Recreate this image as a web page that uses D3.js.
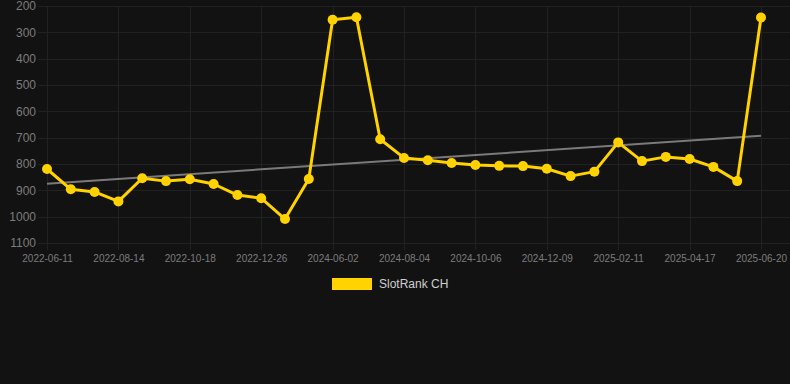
<!DOCTYPE html>
<html>
<head>
<meta charset="utf-8">
<script src="https://cdn.jsdelivr.net/npm/d3@7"></script>
<style>
  html,body{margin:0;padding:0;background:#121212;}
  svg{display:block;font-family:Arial,"Liberation Sans",sans-serif;}
  .grid line{stroke:#212121;stroke-width:1;}
  .axis text{fill:#7c7c7c;}
  .axis path,.axis line{display:none;}
</style>
</head>
<body>
<svg id="chart" width="790" height="384"></svg>
<script>
// data ----------------------------------
// one point every ~3 weeks, only every third date is labelled
var tickLabels=['2022-06-11','2022-08-14','2022-10-18','2022-12-26','2024-06-02','2024-08-04',
  '2024-10-06','2024-12-09','2025-02-11','2025-04-17','2025-06-20'];
var rankValues=[819,896,906,942,854,865,858,876,918,930,1009,857,
  252,243,706,777,786,796,804,807,808,818,846,829,718,789,773,781,811,865,244];
var trendValues=[875,693]; // start, end of the trend line
var yTicks=[200,300,400,500,600,700,800,900,1000,1100];
var seriesName='SlotRank CH';

// setup ---------------------------------
var svg=d3.select('#chart');
var plotLeft=47, plotRight=761, plotTop=6, plotBottom=243;
var idx=d3.range(rankValues.length);

var x=d3.scalePoint().domain(idx).range([plotLeft,plotRight]);
var y=d3.scaleLinear().domain([200,1100]).range([plotTop,plotBottom]);
var tickIdx=idx.filter(i=>i%3==0);

// grid
var grid=svg.append('g').attr('class','grid');
grid.selectAll('.h').data(yTicks).enter().append('line')
  .attr('x1',38).attr('x2',790)
  .attr('y1',d=>Math.round(y(d))+0.5).attr('y2',d=>Math.round(y(d))+0.5);
grid.selectAll('.v').data(tickIdx).enter().append('line')
  .attr('x1',d=>Math.round(x(d))+0.5).attr('x2',d=>Math.round(x(d))+0.5)
  .attr('y1',plotTop).attr('y2',plotBottom+7);

// axes
svg.append('g').attr('class','axis')
  .attr('transform','translate('+(plotLeft-11)+',0)')
  .call(d3.axisLeft(y).tickValues(yTicks).tickSize(0).tickPadding(0).tickFormat(d3.format('d')))
  .selectAll('text').style('font-size','12px');

svg.append('g').attr('class','axis')
  .attr('transform','translate(0,'+(plotBottom+12)+')')
  .call(d3.axisBottom(x).tickValues(tickIdx).tickSize(0).tickPadding(0)
    .tickFormat(d=>tickLabels[tickIdx.indexOf(d)]))
  .selectAll('text').style('font-size','10px').attr('dy','0.71em');

// trend line
svg.append('line')
  .attr('x1',x(0)).attr('x2',x(idx.length-1))
  .attr('y1',y(trendValues[0])).attr('y2',y(trendValues[1]))
  .attr('stroke','#7a7a7a').attr('stroke-width',2);

// series
var line=d3.line().x((d,i)=>x(i)).y(d=>y(d));
svg.append('path').datum(rankValues)
  .attr('d',line)
  .attr('fill','none')
  .attr('stroke','#ffd200')
  .attr('stroke-width',3)
  .attr('stroke-linejoin','round');

svg.selectAll('.pt').data(rankValues).enter().append('circle')
  .attr('class','pt')
  .attr('cx',(d,i)=>x(i)).attr('cy',d=>y(d))
  .attr('r',5)
  .attr('fill','#ffd200');

// legend
var legend=svg.append('g').attr('transform','translate(332,278)');
legend.append('rect').attr('width',40).attr('height',12).attr('fill','#ffd200');
legend.append('text').attr('x',47).attr('y',6).attr('dy','0.35em')
  .style('font-size','12px').attr('fill','#cfcfcf').text(seriesName);
</script>
</body>
</html>
